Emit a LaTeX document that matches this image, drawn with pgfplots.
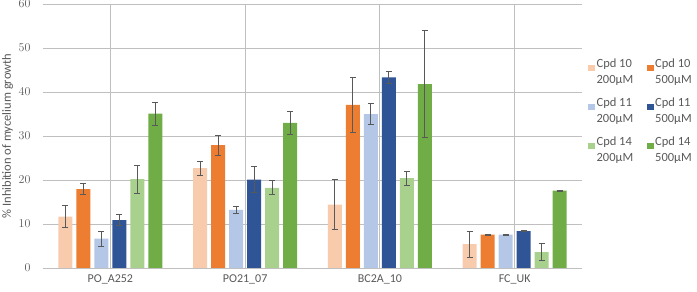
\documentclass[border=0pt]{standalone}
\usepackage{pgfplots}
\pgfplotsset{compat=1.18}
\usepackage{fontspec}
\setmainfont{Carlito}
\definecolor{cA}{HTML}{F8CBAD}
\definecolor{cB}{HTML}{ED7D31}
\definecolor{cC}{HTML}{B4C7E7}
\definecolor{cD}{HTML}{2F5597}
\definecolor{cE}{HTML}{A9D18E}
\definecolor{cF}{HTML}{70AD47}
\definecolor{txt}{HTML}{595959}
\definecolor{grid}{HTML}{D9D9D9}
\definecolor{errc}{HTML}{595959}
\newcommand{\legtwo}[2]{\vbox{\baselineskip=16pt\hbox{#1}\hbox{#2}}}
\begin{document}
\begin{tikzpicture}[x=1pt,y=1pt]
\path[use as bounding box] (-43,-24) rectangle (654,268);
\begin{axis}[
  at={(0,0)}, anchor=south west,
  scale only axis, width=539pt, height=264pt,
  ybar=4pt, bar width=14pt,
  xmin=-0.5, xmax=3.5, ymin=0, ymax=60,
  xtick={0,1,2,3}, xticklabels={PO\_A252,PO21\_07,BC2A\_10,FC\_UK},
  ytick={0,10,20,30,40,50,60},
  ymajorgrids, grid style={grid, line width=0.8pt},
  axis line style={draw=none},
  major tick length=0pt,
  tick label style={font=\fontsize{12}{14}\selectfont, text=txt},
  yticklabel style={xshift=-9pt},
  xticklabel style={yshift=-3pt},
  ylabel={\% Inhibition of mycelium growth},
  every axis y label/.style={at={(rel axis cs:0,0.5)}, rotate=90, anchor=center, yshift=35.5pt,
     font=\fontsize{12.5}{14}\selectfont, text=txt},
  legend columns=2,
  legend style={at={(rel axis cs:1.011,0.80)}, anchor=north west, draw=none, fill=none,
    inner sep=0pt,
    font=\fontsize{12.5}{16}\selectfont, text=txt,
    nodes={inner sep=1.5pt},
    /tikz/every even column/.append style={column sep=12pt},
    row sep=10pt},
  legend cell align=left,
  legend image code/.code={\fill[#1] (0pt,0.5pt) rectangle (7pt,7pt);},
  error bars/y dir=both, error bars/y explicit,
  error bars/error bar style={errc, line width=1pt},
  error bars/error mark options={errc, rotate=90, mark size=3pt, line width=1pt},
]
\addplot[fill=cA, draw=none] coordinates {(0,11.7) +- (0,2.5) (1,22.7) +- (0,1.6) (2,14.4) +- (0,5.65) (3,5.4) +- (0,3.0)};
\addplot[fill=cB, draw=none] coordinates {(0,17.95) +- (0,1.2) (1,27.9) +- (0,2.3) (2,37.1) +- (0,6.2) (3,7.6) +- (0,0.1)};
\addplot[fill=cC, draw=none] coordinates {(0,6.7) +- (0,1.7) (1,13.2) +- (0,0.8) (2,35.0) +- (0,2.3) (3,7.6) +- (0,0.1)};
\addplot[fill=cD, draw=none] coordinates {(0,10.9) +- (0,1.3) (1,20.1) +- (0,2.9) (2,43.3) +- (0,1.3) (3,8.4) +- (0,0.1)};
\addplot[fill=cE, draw=none] coordinates {(0,20.2) +- (0,3.2) (1,18.2) +- (0,1.6) (2,20.4) +- (0,1.55) (3,3.6) +- (0,1.9)};
\addplot[fill=cF, draw=none] coordinates {(0,35.1) +- (0,2.6) (1,33.0) +- (0,2.65) (2,41.8) +- (0,12.2) (3,17.6) +- (0,0.1)};
\legend{\legtwo{Cpd 10}{200µM}, \legtwo{Cpd 10}{500µM}, \legtwo{Cpd 11}{200µM}, \legtwo{Cpd 11}{500µM}, \legtwo{Cpd 14}{200µM}, \legtwo{Cpd 14}{500µM}}
\end{axis}
\end{tikzpicture}
\end{document}
